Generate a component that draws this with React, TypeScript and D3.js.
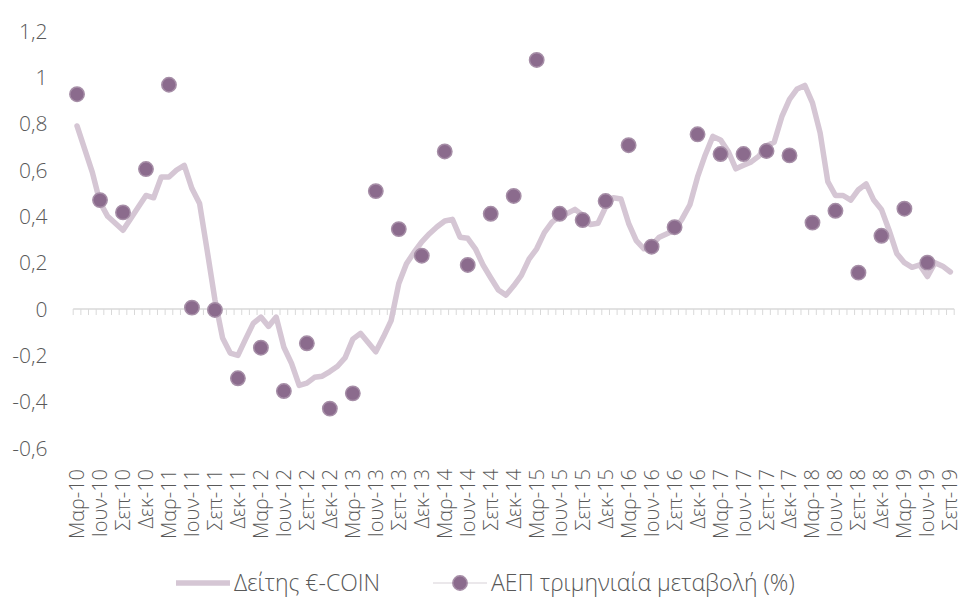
import React from "react";
import * as d3 from "d3";

const monthNames = ["Μαρ", "Απρ", "Μαϊ", "Ιουν", "Ιουλ", "Αυγ", "Σεπ", "Οκτ", "Νοε", "Δεκ", "Ιαν", "Φεβ"];
const quarterMonths = ["Μαρ", "Ιουν", "Σεπ", "Δεκ"];
const years = [10, 11, 12, 13, 14, 15, 16, 17, 18, 19];

// Monthly €-COIN values, Mar-10 .. Sep-19
const ecoin = [
  0.79, 0.69, 0.59, 0.46, 0.40, 0.37, 0.34, 0.39, 0.44, 0.49,
  0.48, 0.57, 0.57, 0.60, 0.62, 0.52, 0.455, 0.25, 0.04, -0.125,
  -0.19, -0.20, -0.13, -0.062, -0.035, -0.075, -0.035, -0.165, -0.235, -0.33,
  -0.32, -0.295, -0.29, -0.27, -0.247, -0.21, -0.13, -0.105, -0.145, -0.185,
  -0.12, -0.05, 0.11, 0.195, 0.245, 0.29, 0.325, 0.355, 0.38, 0.387,
  0.31, 0.305, 0.26, 0.19, 0.135, 0.082, 0.06, 0.10, 0.145, 0.215,
  0.26, 0.33, 0.375, 0.40, 0.413, 0.43, 0.405, 0.365, 0.37, 0.44,
  0.48, 0.475, 0.37, 0.295, 0.26, 0.275, 0.31, 0.325, 0.34, 0.39,
  0.45, 0.57, 0.665, 0.745, 0.73, 0.68, 0.605, 0.62, 0.635, 0.66,
  0.705, 0.72, 0.83, 0.905, 0.95, 0.965, 0.89, 0.76, 0.55, 0.49,
  0.49, 0.47, 0.515, 0.54, 0.47, 0.43, 0.34, 0.24, 0.20, 0.18,
  0.19, 0.14, 0.20, 0.185, 0.16,
];

// Quarterly GDP change, Mar-10 .. Jun-19
const gdp = [
  0.927, 0.47, 0.417, 0.604, 0.968, 0.006, -0.004, -0.299, -0.167, -0.354,
  -0.148, -0.43, -0.364, 0.509, 0.345, 0.23, 0.68, 0.19, 0.411, 0.488,
  1.075, 0.411, 0.384, 0.466, 0.707, 0.269, 0.353, 0.754, 0.669, 0.669,
  0.682, 0.663, 0.373, 0.424, 0.157, 0.316, 0.433, 0.2,
];

const yTicks = [-0.6, -0.4, -0.2, 0, 0.2, 0.4, 0.6, 0.8, 1, 1.2];

const quarterLabels: string[] = [];
years.forEach((y) => quarterMonths.forEach((m) => quarterLabels.push(`${m}-${y}`)));
const quarterLabelsUsed = quarterLabels.slice(0, 39);

const LINE_COLOR = "#d5c6d4";
const DOT_FILL = "#8b6b8d";
const DOT_STROKE = "#a68ea7";
const TEXT = "#595959";
const FONT = "'Open Sans', 'Noto Sans', sans-serif";

export default function App() {
  const W = 962, H = 604;
  const x = d3.scaleBand<number>().domain(d3.range(ecoin.length)).range([73.2, 954.2]).padding(0);
  const y = d3.scaleLinear().domain([-0.6, 1.2]).range([448, 31]);
  const cx = (i: number) => (x(i) as number) + x.bandwidth() / 2;

  const line = d3.line<number>().x((_, i) => cx(i)).y((d) => y(d));
  const fmt = (v: number) => {
    if (Math.abs(v) < 1e-9) return "0";
    let s = v.toFixed(1);
    if (s.endsWith(".0")) s = s.slice(0, -2);
    return s.replace(".", ",");
  };

  const tickXs = d3.range(ecoin.length + 1).map((i) => 73.2 + i * x.bandwidth());

  return (
    <svg width={W} height={H} style={{ position: "absolute", left: 0, top: 0, background: "#fff" }} fontFamily={FONT}>
      {yTicks.map((t) => (
        <text key={t} x={47.5} y={y(t)} dy="0.36em" textAnchor="end" fontSize={21} fontWeight={300} fill={TEXT}>
          {fmt(t)}
        </text>
      ))}
      <line x1={73.2} x2={954.2} y1={y(0)} y2={y(0)} stroke="#d9d9d9" strokeWidth={1.5} />
      {tickXs.map((tx, i) => (
        <line key={i} x1={tx} x2={tx} y1={y(0)} y2={y(0) + 6} stroke="#d9d9d9" strokeWidth={1} />
      ))}
      <path d={line(ecoin) || ""} fill="none" stroke={LINE_COLOR} strokeWidth={5.5} strokeLinejoin="round" strokeLinecap="round" />
      {gdp.map((v, q) => (
        <circle key={q} cx={cx(q * 3)} cy={y(v)} r={7.2} fill={DOT_FILL} stroke={DOT_STROKE} strokeWidth={1.5} />
      ))}
      {quarterLabelsUsed.map((lab, q) => (
        <text
          key={lab}
          transform={`translate(${Math.min(cx(q * 3), 951)},469) rotate(-90)`}
          dy="0.35em"
          textAnchor="end"
          fontSize={20}
          fontWeight={300}
          fill={TEXT}
        >
          {lab}
        </text>
      ))}
      <g>
        <line x1={176} x2={230} y1={583} y2={583} stroke={LINE_COLOR} strokeWidth={5.5} />
        <text x={234} y={583} dy="0.36em" fontSize={23} fontWeight={300} fill={TEXT}>Δείτης €-COIN</text>
        <line x1={433} x2={487} y1={583} y2={583} stroke="#e4e0e4" strokeWidth={1.5} />
        <circle cx={460} cy={583} r={7.2} fill={DOT_FILL} stroke={DOT_STROKE} strokeWidth={1.5} />
        <text x={491} y={583} dy="0.36em" fontSize={23} fontWeight={300} fill={TEXT}>ΑΕΠ τριμηνιαία μεταβολή (%)</text>
      </g>
    </svg>
  );
}
